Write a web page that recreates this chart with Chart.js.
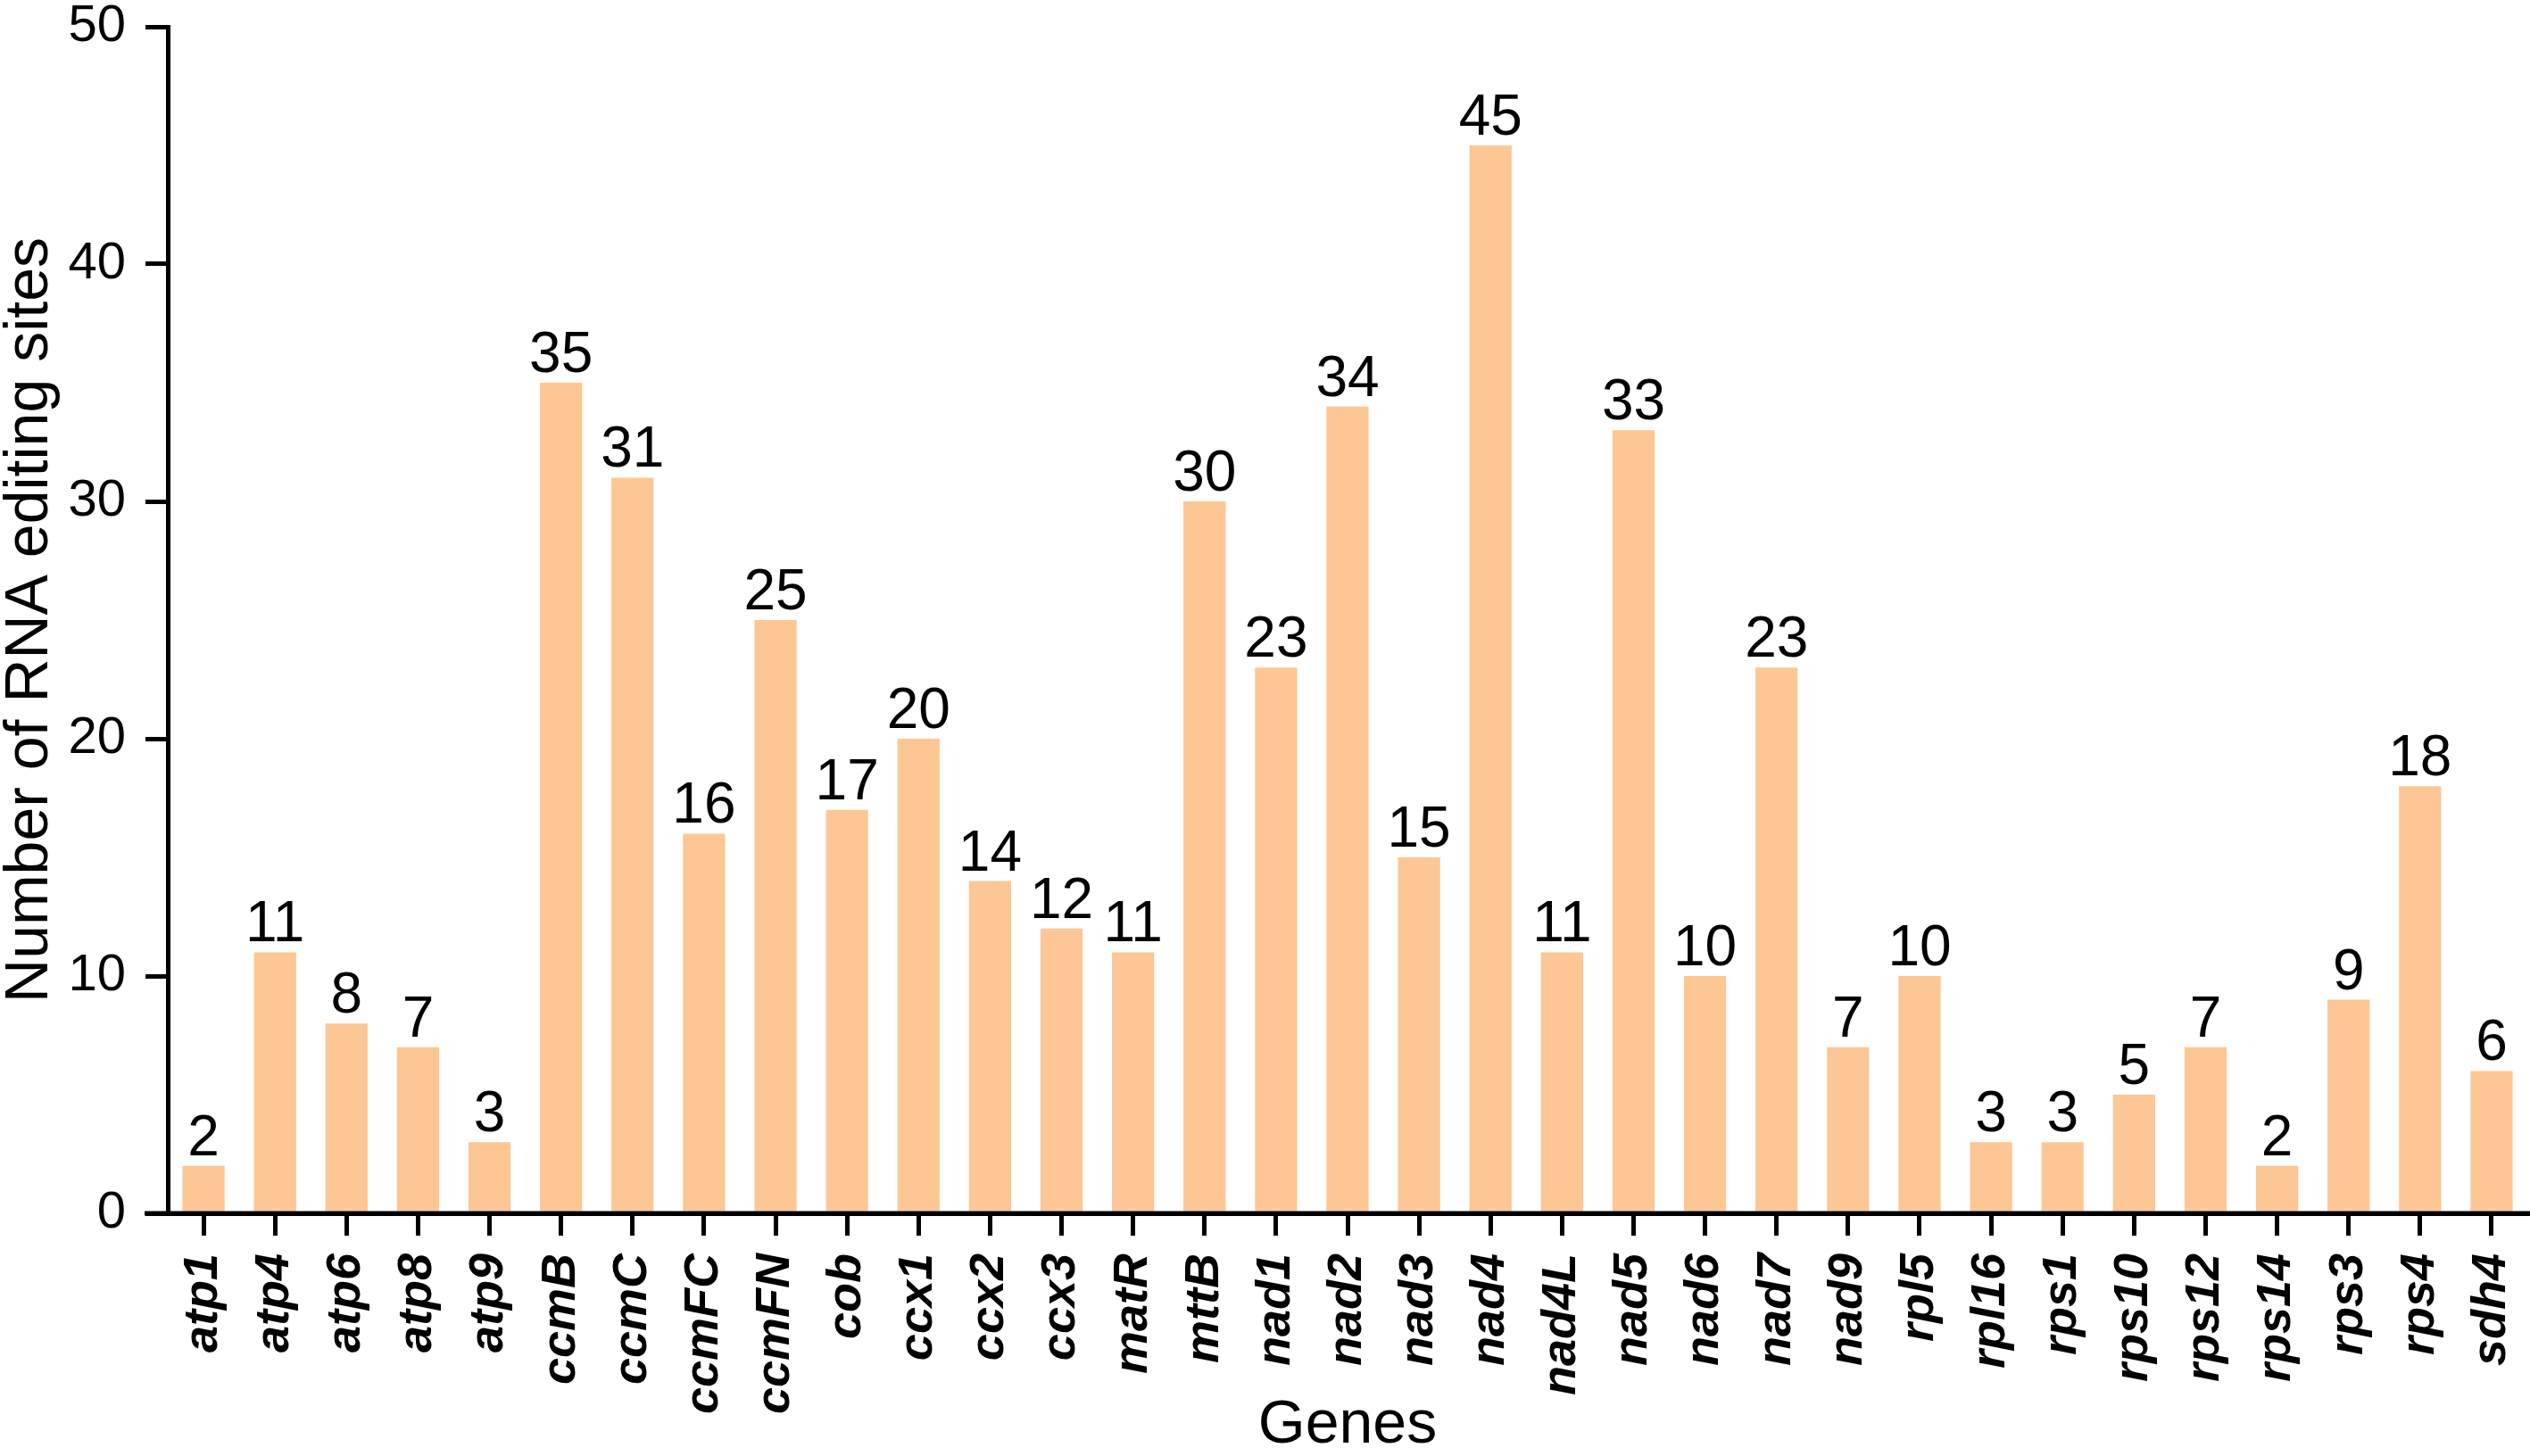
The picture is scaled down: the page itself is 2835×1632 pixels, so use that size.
<!DOCTYPE html>
<html>
<head>
<meta charset="utf-8">
<script src="https://cdn.jsdelivr.net/npm/chart.js@4"></script>
<style>
  body { margin: 0; background: #fff; }
  canvas { display: block; }
</style>
</head>
<body>
<canvas id="myChart" width="2835" height="1632"></canvas>
<script>
let genes = [
  "atp1", "atp4", "atp6", "atp8", "atp9", "ccmB", "ccmC", "ccmFC", "ccmFN",
  "cob", "ccx1", "ccx2", "ccx3", "matR", "mttB", "nad1", "nad2", "nad3",
  "nad4", "nad4L", "nad5", "nad6", "nad7", "nad9", "rpl5", "rpl16", "rps1",
  "rps10", "rps12", "rps14", "rps3", "rps4", "sdh4",
];
let editingSites = [
  2, 11, 8, 7, 3, 35, 31, 16, 25, 17, 20, 14, 12, 11, 30, 23, 34, 15,
  45, 11, 33, 10, 23, 7, 10, 3, 3, 5, 7, 2, 9, 18, 6,
];
let yTicks = [0, 10, 20, 30, 40, 50];

const fontFamily = "'Liberation Sans', Arial, sans-serif";

// numbers above each bar
const valueLabels = {
  id: "valueLabels",
  afterDatasetsDraw(chart) {
    const ctx = chart.ctx;
    const meta = chart.getDatasetMeta(0);
    ctx.save();
    ctx.font = "64px " + fontFamily;
    ctx.fillStyle = "#000";
    ctx.textAlign = "center";
    ctx.textBaseline = "alphabetic";
    meta.data.forEach((bar, i) => {
      ctx.fillText(String(chart.data.datasets[0].data[i]), bar.x, bar.y - 12);
    });
    ctx.restore();
  },
};

// the x axis line runs a bit left of the y axis, up to the tick start
const axisExtension = {
  id: "axisExtension",
  afterDraw(chart) {
    const ctx = chart.ctx;
    const area = chart.chartArea;
    const y = chart.scales.y.getPixelForValue(0);
    ctx.save();
    ctx.strokeStyle = "#000";
    ctx.lineWidth = 5;
    ctx.beginPath();
    ctx.moveTo(area.left - 26, y);
    ctx.lineTo(chart.width, y);
    ctx.stroke();
    ctx.restore();
  },
};

const ctx = document.getElementById("myChart");

new Chart(ctx, {
  type: "bar",
  data: {
    labels: genes,
    datasets: [
      {
        data: editingSites,
        backgroundColor: "#FCC794",
        borderWidth: 0,
        categoryPercentage: 1,
        barPercentage: 0.59,
      },
    ],
  },
  options: {
    responsive: false,
    devicePixelRatio: 1,
    animation: false,
    layout: {
      padding: { top: 0, right: 3, left: 0, bottom: 0 },
    },
    plugins: {
      legend: { display: false },
      tooltip: { enabled: false },
    },
    scales: {
      x: {
        afterFit(scale) {
          scale.height = 272;
          scale.paddingLeft = 0;
          scale.paddingRight = 0;
        },
        grid: {
          display: true,
          drawOnChartArea: false,
          offset: false,
          color: "#000",
          lineWidth: 5,
          tickLength: 25,
          tickWidth: 5,
        },
        border: { display: true, color: "#000", width: 5 },
        ticks: {
          minRotation: 90,
          maxRotation: 90,
          autoSkip: false,
          padding: 20,
          color: "#000",
          font: { family: fontFamily, size: 54, style: "italic", weight: "bold" },
        },
        title: {
          display: true,
          text: "Genes",
          color: "#000",
          padding: { top: 0, bottom: 0 },
          font: { family: fontFamily, size: 68, lineHeight: 1 },
        },
      },
      y: {
        min: 0,
        max: 50,
        afterFit(scale) {
          scale.width = 188;
          scale.paddingTop = 30;
          scale.paddingBottom = 0;
        },
        afterBuildTicks(scale) {
          scale.ticks = yTicks.map((v) => ({ value: v }));
        },
        grid: {
          display: true,
          drawOnChartArea: false,
          color: "#000",
          lineWidth: 5,
          tickLength: 25,
          tickWidth: 5,
        },
        border: { display: true, color: "#000", width: 5 },
        ticks: {
          padding: 22,
          color: "#000",
          font: { family: fontFamily, size: 58 },
        },
        title: {
          display: true,
          text: "Number of RNA editing sites",
          color: "#000",
          padding: { top: 0, bottom: 0 },
          font: { family: fontFamily, size: 68, lineHeight: 1 },
        },
      },
    },
  },
  plugins: [valueLabels, axisExtension],
});
</script>
</body>
</html>
